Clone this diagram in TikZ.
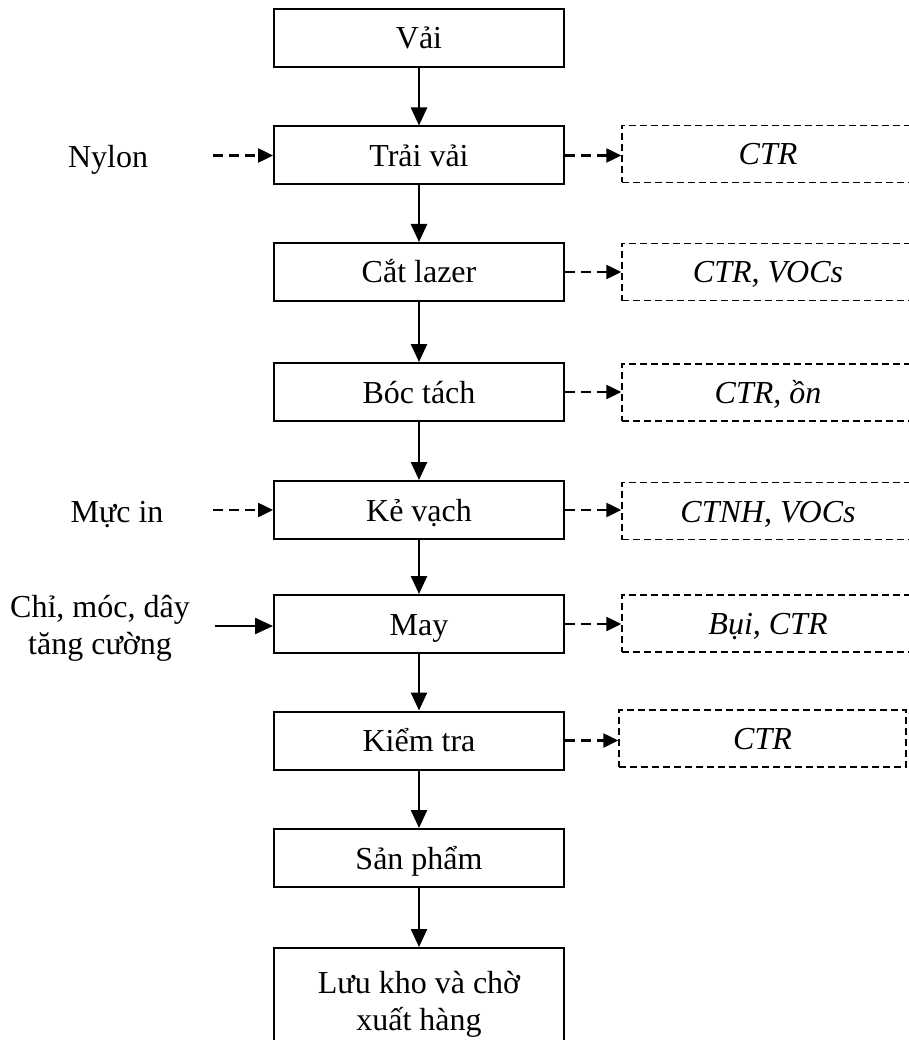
\documentclass[tikz,border=0pt]{standalone}
\usepackage{fontspec}
\setmainfont{Liberation Serif}
\usetikzlibrary{arrows.meta}
\begin{document}
\begin{tikzpicture}[x=1pt,y=-1pt,
  font=\fontsize{32}{37}\selectfont,
  stepbox/.style={draw,line width=2pt,minimum width=290pt,minimum height=58pt,
    inner sep=0pt,text height=22pt,text depth=0pt},
  wastebox/.style={draw,line width=1.5pt,dash pattern=on 7pt off 4pt,
    minimum width=292pt,minimum height=57pt,inner sep=0pt,
    text height=22pt,text depth=0pt,font=\fontsize{32}{37}\selectfont\itshape},
  inlabel/.style={inner sep=0pt,align=center},
  flow/.style={line width=2.5pt,-{Triangle[length=18pt,width=16pt]}},
  dflow/.style={line width=2.5pt,dash pattern=on 10pt off 6pt,
    -{Triangle[length=15pt,width=14pt]}},
]
\useasboundingbox (0,0) rectangle (908,1040);

% main process chain
\node[stepbox] (v0) at (419,38)    {Vải};
\node[stepbox] (v1) at (419,155.5) {Trải vải};
\node[stepbox] (v2) at (419,272)   {Cắt lazer};
\node[stepbox] (v3) at (419,392)   {Bóc tách};
\node[stepbox] (v4) at (419,510)   {Kẻ vạch};
\node[stepbox] (v5) at (419,624)   {May};
\node[stepbox] (v6) at (419,740.5) {Kiểm tra};
\node[stepbox] (v7) at (419,858)   {Sản phẩm};
\node[draw,line width=2pt,minimum width=290pt,minimum height=112pt,
  inner sep=0pt,align=center] (v8) at (419,1004)
  {Lưu kho và chờ\\xuất hàng};

\foreach \a/\b in {v0/v1,v1/v2,v2/v3,v3/v4,v4/v5,v5/v6,v6/v7,v7/v8}
  \draw[flow] (\a.south) -- (\b.north);

% waste outputs
\node[wastebox] (w1) at (768,154)   {CTR};
\node[wastebox] (w2) at (768,272)   {CTR, VOCs};
\node[wastebox] (w3) at (768,392.5) {CTR, ồn};
\node[wastebox] (w4) at (768,511)   {CTNH, VOCs};
\node[wastebox] (w5) at (768,623.5) {Bụi, CTR};
\node[wastebox,minimum width=287pt] (w6) at (762.5,738.5) {CTR};

\foreach \a/\b in {v1/w1,v2/w2,v3/w3,v4/w4,v5/w5,v6/w6}
  \draw[dflow] (\a.east) -- (\a.east -| \b.west);

% material inputs
\node[inlabel] (n1) at (108,160) {Nylon};
\node[inlabel] (n2) at (117,515) {Mực in};
\node[inlabel] (n3) at (100,628) {Chỉ, móc, dây\\tăng cường};
\coordinate (s1) at (213,155.5);
\coordinate (s2) at (213,510);
\coordinate (s3) at (215,626);
\draw[dflow] (s1) -- (s1 -| v1.west);
\draw[dflow] (s2) -- (s2 -| v4.west);
\draw[flow]  (s3) -- (s3 -| v5.west);
\end{tikzpicture}
\end{document}
